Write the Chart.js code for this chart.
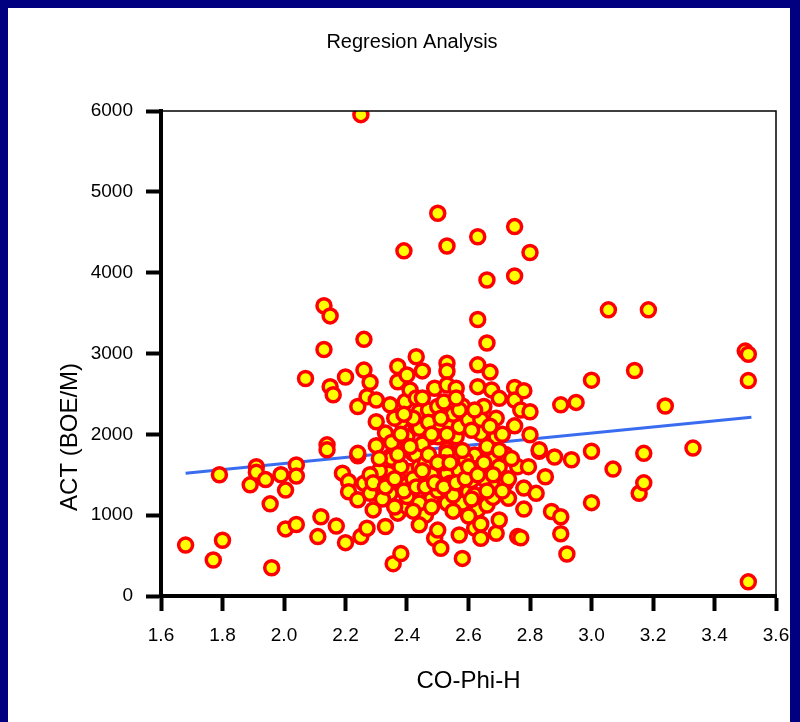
<!DOCTYPE html>
<html>
<head>
<meta charset="utf-8">
<script src="https://cdn.jsdelivr.net/npm/chart.js@4"></script>
<style>
  html, body { margin: 0; padding: 0; background: #000080; overflow: hidden; }
  #frame { position: absolute; left: 8px; top: 8px; width: 782px; height: 714px; background: #ffffff; }
</style>
</head>
<body>
<div id="frame"><canvas id="regression" width="782" height="714"></canvas></div>
<script>
// CO-Phi-H (x) and ACT (y)
const coPhiH = [
    1.68, 1.77, 1.79, 1.80, 1.89, 1.91, 1.91, 1.94, 1.955, 1.96,
    1.99, 2.005, 2.005, 2.04, 2.04, 2.04, 2.07, 2.11, 2.12, 2.13,
    2.15, 2.13, 2.14, 2.14, 2.15, 2.16, 2.17, 2.19, 2.20, 2.20,
    2.21, 2.21, 2.24, 2.24, 2.24, 2.24, 2.25, 2.25, 2.26, 2.26,
    2.26, 2.27, 2.27, 2.28, 2.28, 2.29, 2.30, 2.30, 2.30, 2.33,
    2.33, 2.34, 2.34, 2.345, 2.345, 2.345, 2.35, 2.355, 2.37, 2.37,
    2.37, 2.38, 2.38, 2.39, 2.394, 2.394, 2.40, 2.40, 2.40, 2.40,
    2.40, 2.41, 2.41, 2.42, 2.43, 2.43, 2.43, 2.44, 2.44, 2.44,
    2.45, 2.47, 2.47, 2.475, 2.49, 2.49, 2.50, 2.50, 2.50, 2.50,
    2.50, 2.51, 2.53, 2.53, 2.53, 2.53, 2.53, 2.53, 2.53, 2.53,
    2.54, 2.54, 2.55, 2.56, 2.56, 2.57, 2.57, 2.58, 2.58, 2.58,
    2.60, 2.60, 2.62, 2.62, 2.63, 2.63, 2.63, 2.63, 2.63, 2.64,
    2.64, 2.64, 2.64, 2.65, 2.66, 2.66, 2.66, 2.67, 2.675, 2.675,
    2.68, 2.69, 2.69, 2.69, 2.70, 2.70, 2.72, 2.73, 2.75, 2.75,
    2.75, 2.75, 2.75, 2.76, 2.76, 2.77, 2.77, 2.78, 2.78, 2.78,
    2.795, 2.80, 2.80, 2.80, 2.82, 2.83, 2.83, 2.85, 2.87, 2.88,
    2.90, 2.90, 2.90, 2.92, 2.935, 2.95, 3.00, 3.00, 3.00, 3.055,
    3.07, 3.14, 3.155, 3.17, 3.17, 3.185, 3.24, 3.33, 3.50, 3.51,
    3.51, 3.51,
    2.36, 2.38, 2.42, 2.45, 2.46, 2.48, 2.48, 2.52, 2.55, 2.57,
    2.59, 2.61, 2.61, 2.62, 2.65, 2.66, 2.68, 2.70, 2.71, 2.72,
    2.44, 2.46, 2.50, 2.36, 2.43, 2.47, 2.52, 2.55, 2.58, 2.69,
    2.73, 2.60, 2.64, 2.44, 2.31, 2.32, 2.28,
    2.29, 2.31, 2.33, 2.35, 2.36, 2.37, 2.38, 2.39, 2.41, 2.42,
    2.43, 2.45, 2.46, 2.47, 2.48, 2.49, 2.50, 2.51, 2.52, 2.53,
    2.54, 2.56, 2.57, 2.58, 2.59, 2.60, 2.61, 2.62, 2.63, 2.65,
    2.66, 2.67, 2.68, 2.70, 2.71, 2.74, 2.39, 2.45, 2.56, 2.36,
    2.42, 2.48, 2.55
];
const act = [
    630, 445, 1500, 690, 1375, 1600, 1530, 1440, 1140, 350,
    1500, 1310, 830, 885, 1620, 1485, 2690, 735, 980, 3590,
    3465, 3050, 1870, 1810, 2590, 2490, 865, 1520, 2710, 660,
    1415, 1290, 1735, 1190, 2345, 1765, 5955, 735, 3175, 2795,
    1395, 838, 2465, 2645, 1270, 1065, 2425, 2155, 1860, 2015,
    860, 1520, 1400, 1725, 1270, 2365, 1705, 400, 2840, 2650,
    1025, 2160, 525, 4270, 2405, 1950, 2735, 1970, 1375, 1105,
    1230, 2550, 1540, 1765, 2960, 2095, 1745, 2075, 1600, 2280,
    2785, 2300, 1310, 1970, 2570, 715, 4735, 2345, 2075, 1970,
    815, 590, 4330, 2880, 2780, 2610, 1810, 1765, 1520, 1150,
    2140, 1395, 1395, 2570, 1970, 2095, 755, 1165, 1150, 465,
    2180, 1290, 1745, 840, 4445, 3420, 2860, 2590, 1065, 2185,
    2010, 1560, 715, 2345, 3130, 1125, 3910, 2770, 2550, 1745,
    1685, 1970, 1355, 775, 2445, 940, 1395, 1210, 4570, 3960,
    2580, 2425, 2105, 1600, 735, 2300, 720, 2540, 1335, 1075,
    1600, 4250, 2280, 1995, 1270, 1790, 1810, 1475, 1045, 1720,
    2365, 980, 770, 520, 1685, 2395, 2670, 1790, 1155, 3540,
    1570, 2790, 1270, 1765, 1400, 3540, 2350, 1830, 3030, 2990,
    2665, 175,
    1850, 1600, 1450, 1880, 1650, 1500, 1200, 1650, 1250, 1550,
    1680, 1430, 2050, 1250, 1450, 1850, 1220, 1600, 2000, 1750,
    1150, 1000, 1300, 2200, 2450, 2150, 2400, 2250, 2350, 2200,
    1450, 990, 890, 880, 1550, 1200, 1500,
    1400, 1700, 1350, 1900, 1450, 1750, 2000, 1300, 1850, 2200,
    1350, 1550, 1350, 1750, 2000, 1400, 1650, 2200, 1350, 2000,
    1650, 1400, 2300, 1800, 1450, 1600, 1200, 2300, 1500, 1650,
    1300, 2100, 1500, 1800, 1300, 1700, 2250, 2450, 2450, 1100,
    1050, 1100, 1050
];

// regression line end points
const fitX = [1.68, 3.52];
const fitY = [1520, 2210];

const xTickLabels = ['1.6', '1.8', '2.0', '2.2', '2.4', '2.6', '2.8', '3.0', '3.2', '3.4', '3.6'];
const yTickLabels = ['0', '1000', '2000', '3000', '4000', '5000', '6000'];
const yAxisTitle = 'ACT (BOE/M)';

(() => {
    const ctx = document.getElementById('regression').getContext('2d');
    const fontFamily = '"Liberation Sans", Arial, sans-serif';

    // thin frame on top and right of the plot area
    const frameLines = {
        id: 'frameLines',
        afterDatasetsDraw(chart) {
            const a = chart.chartArea;
            const c = chart.ctx;
            c.save();
            c.strokeStyle = '#000';
            c.lineWidth = 1.5;
            c.beginPath();
            c.moveTo(a.left, a.top);
            c.lineTo(a.right, a.top);
            c.lineTo(a.right, a.bottom);
            c.stroke();
            c.restore();
        }
    };

    // y title sits low, under the middle of the axis
    const yTitle = {
        id: 'yTitle',
        afterDraw(chart) {
            const a = chart.chartArea;
            const c = chart.ctx;
            c.save();
            c.font = '24px ' + fontFamily;
            c.fillStyle = '#000';
            c.textAlign = 'center';
            c.textBaseline = 'middle';
            c.translate(chart.scales.y.left + 22, a.top + (a.bottom - a.top) * 0.672);
            c.rotate(-Math.PI / 2);
            c.fillText(yAxisTitle, 0, 0);
            c.restore();
        }
    };

    new Chart(ctx, {
        type: 'scatter',
        data: {
            datasets: [{
                label: 'ACT',
                data: coPhiH.map((x, i) => ({x: x, y: act[i]})),
                backgroundColor: '#ffff00',
                borderColor: '#ff0000',
                borderWidth: 3.5,
                pointRadius: 7,
                pointHoverRadius: 7,
                clip: 0,
                order: 1
            }, {
                type: 'line',
                label: 'Regression',
                data: fitX.map((x, i) => ({x: x, y: fitY[i]})),
                borderColor: '#3a6cf0',
                borderWidth: 3,
                pointRadius: 0,
                fill: false,
                showLine: true,
                order: 2
            }]
        },
        options: {
            responsive: false,
            animation: false,
            layout: {
                padding: {left: 40, right: 14, top: 0, bottom: 0}
            },
            plugins: {
                legend: {display: false},
                tooltip: {enabled: false},
                title: {
                    display: true,
                    text: 'Regresion Analysis',
                    color: '#000',
                    font: {family: fontFamily, size: 20, weight: 'normal'},
                    padding: {top: 22, bottom: 57}
                }
            },
            scales: {
                x: {
                    type: 'linear',
                    min: 1.6,
                    max: 3.6,
                    afterFit: scale => {
                        scale.height = 126;
                        scale.paddingLeft = 0;
                        scale.paddingRight = 0;
                    },
                    ticks: {
                        stepSize: 0.2,
                        padding: 13.5,
                        color: '#000',
                        font: {family: fontFamily, size: 19},
                        callback: (v, i) => xTickLabels[i]
                    },
                    grid: {
                        drawOnChartArea: false,
                        drawTicks: true,
                        tickLength: 15,
                        tickWidth: 4,
                        tickColor: '#000'
                    },
                    border: {display: true, width: 4, color: '#000'},
                    title: {
                        display: true,
                        text: 'CO-Phi-H',
                        color: '#000',
                        font: {family: fontFamily, size: 24},
                        padding: {top: 0, bottom: 26.5}
                    }
                },
                y: {
                    type: 'linear',
                    min: 0,
                    max: 6000,
                    afterFit: scale => { scale.width = 113; },
                    ticks: {
                        stepSize: 1000,
                        padding: 13,
                        color: '#000',
                        font: {family: fontFamily, size: 19},
                        callback: (v, i) => yTickLabels[i]
                    },
                    grid: {
                        drawOnChartArea: false,
                        drawTicks: true,
                        tickLength: 15,
                        tickWidth: 4,
                        tickColor: '#000'
                    },
                    border: {display: true, width: 4, color: '#000'},
                    title: {display: false}
                }
            }
        },
        plugins: [frameLines, yTitle]
    });
})();
</script>
</body>
</html>
